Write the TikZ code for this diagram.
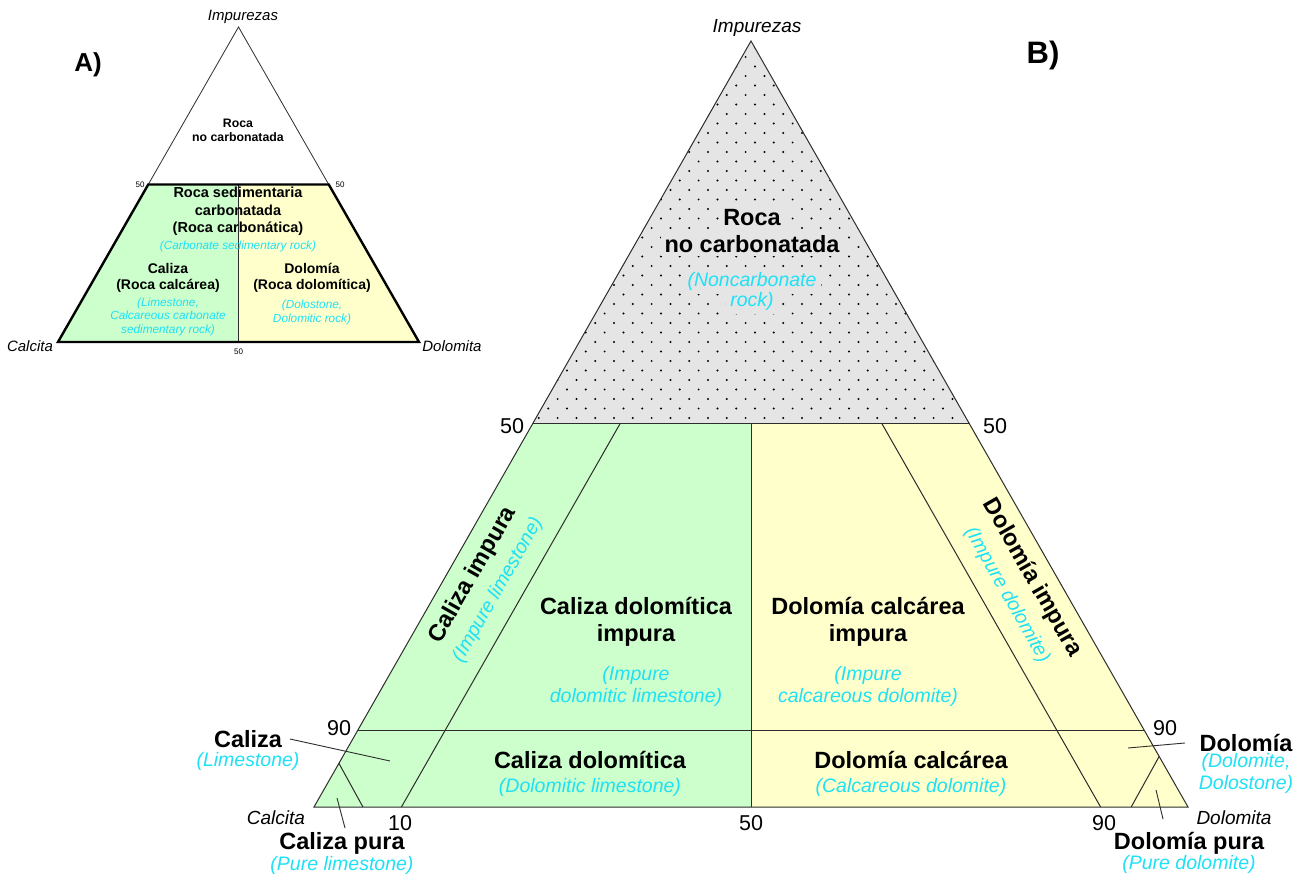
\documentclass[tikz,border=0pt]{standalone}
\usepackage{fontspec}
\setmainfont{Liberation Sans}
\usetikzlibrary{calc}
\definecolor{calgreen}{RGB}{204,255,204}
\definecolor{dolyellow}{RGB}{255,255,204}
\definecolor{impgray}{RGB}{229,229,229}
\definecolor{engcyan}{RGB}{30,225,245}
\definecolor{linegray}{RGB}{45,45,45}
\begin{document}
\begin{tikzpicture}[x=1pt,y=-1pt,
  edge/.style={draw=linegray,line width=1pt},
  leader/.style={draw=linegray,line width=0.9pt},
  esp/.style={font=\fontsize{23.5}{27}\selectfont\bfseries,align=center,inner sep=0pt},
  eng/.style={font=\fontsize{19.5}{22}\selectfont\itshape,text=engcyan,align=center,inner sep=0pt},
  num/.style={font=\fontsize{21.5}{24}\selectfont,inner sep=0pt},
  vertex/.style={font=\fontsize{19}{22}\selectfont\itshape,inner sep=0pt},
  espA/.style={font=\fontsize{14}{16.5}\selectfont\bfseries,align=center,inner sep=0pt},
  engA/.style={font=\fontsize{11.8}{13.5}\selectfont\itshape,text=engcyan,align=center,inner sep=0pt},
  numA/.style={font=\fontsize{8}{9}\selectfont,inner sep=0pt},
  vertexA/.style={font=\fontsize{15}{17}\selectfont\itshape,inner sep=0pt},
  panel/.style={font=\bfseries,inner sep=0pt},
  knockout/.style={fill=impgray,inner xsep=4pt,inner ysep=3pt,anchor=base}]

\fill[white] (0,0) rectangle (1307,874);
\useasboundingbox (0,0) rectangle (1307,874);

% ---------------- Diagram A ----------------
\coordinate (Ca) at (58,342);
\coordinate (Da) at (419,342);
\coordinate (Ia) at (238.5,27);
\coordinate (La) at ($(Ca)!0.5!(Ia)$);
\coordinate (Ra) at ($(Da)!0.5!(Ia)$);
\coordinate (Ma) at ($(La)!0.5!(Ra)$);
\coordinate (Ba) at ($(Ca)!0.5!(Da)$);

\fill[calgreen] (Ca) -- (La) -- (Ma) -- (Ba) -- cycle;
\fill[dolyellow] (Ba) -- (Ma) -- (Ra) -- (Da) -- cycle;
\draw[draw=linegray,line width=0.8pt] (La) -- (Ia) -- (Ra);
\draw[draw=linegray,line width=1pt] (Ma) -- (Ba);
\draw[line width=2.4pt,line join=miter] (Ca) -- (La) -- (Ra) -- (Da) -- cycle;

\node[vertexA] (impA) at (243,17) {Impurezas};
\node[panel,font=\fontsize{26}{28}\selectfont\bfseries] (labA) at (88,65) {A)};
\node[font=\fontsize{12.3}{14}\selectfont\bfseries,align=center,inner sep=0pt] (rocaA) at (238,130) {Roca\\no carbonatada};
\node[numA] (a50l) at (140,185) {50};
\node[numA] (a50r) at (340,185) {50};
\node[numA] (a50b) at (238.5,352) {50};
\node[espA,font=\fontsize{14.5}{17.5}\selectfont\bfseries] (rscA) at (238,211.5) {Roca sedimentaria\\carbonatada\\(Roca carbonática)};
\node[engA] (rscAe) at (238,246) {(Carbonate sedimentary rock)};
\node[espA] (calA) at (168,278) {Caliza\\(Roca calcárea)};
\node[engA] (calAe) at (168,316.5) {(Limestone,\\Calcareous carbonate\\sedimentary rock)};
\node[espA] (dolA) at (312,278) {Dolomía\\(Roca dolomítica)};
\node[engA] (dolAe) at (312,312.5) {(Dolostone,\\Dolomitic rock)};
\node[vertexA] (calcitaA) at (30,346) {Calcita};
\node[vertexA] (dolomitaA) at (452,346) {Dolomita};

% ---------------- Diagram B ----------------
\coordinate (C) at (314,807);
\coordinate (D) at (1188,807);
\coordinate (I) at (751,41);
\coordinate (L50) at ($(C)!0.5!(I)$);
\coordinate (R50) at ($(D)!0.5!(I)$);
\coordinate (M50) at ($(L50)!0.5!(R50)$);
\coordinate (B50) at ($(C)!0.5!(D)$);
\coordinate (L90) at ($(C)!0.1!(I)$);
\coordinate (R90) at ($(D)!0.1!(I)$);
\coordinate (B10) at ($(C)!0.1!(D)$);
\coordinate (B90) at ($(C)!0.9!(D)$);
\coordinate (T10) at ($(L50)!0.2!(R50)$);
\coordinate (T90) at ($(L50)!0.8!(R50)$);
\coordinate (CP1) at ($(C)!0.057!(I)$);
\coordinate (CP2) at ($(C)!0.056!(D)$);
\coordinate (DP1) at ($(D)!0.066!(I)$);
\coordinate (DP2) at ($(D)!0.065!(C)$);

\fill[impgray] (I) -- (L50) -- (R50) -- cycle;
\fill[calgreen] (C) -- (L50) -- (M50) -- (B50) -- cycle;
\fill[dolyellow] (B50) -- (M50) -- (R50) -- (D) -- cycle;

% stipple of the non-carbonate field
\begin{scope}
  \clip (I) -- (L50) -- (R50) -- cycle;
  \foreach \j in {0,...,39}{
    \pgfmathsetmacro\yy{418-9.5*\j}
    \pgfmathsetmacro\xo{755-9.4*(1-mod(\j,2))}
    \foreach \k in {-24,...,24}{
      \fill[black] (\xo+18.8*\k,\yy) circle[radius=1.1];
    }
  }
\end{scope}

\draw[edge,line join=miter] (I) -- (C) -- (D) -- cycle;
\draw[edge] (L50) -- (R50);
\draw[edge] (L90) -- (R90);
\draw[edge] (B10) -- (T10);
\draw[edge] (B90) -- (T90);
\draw[edge] (M50) -- (B50);
\draw[edge] (CP1) -- (CP2);
\draw[edge] (DP1) -- (DP2);

\node[vertex] (impB) at (757,28) {Impurezas};
\node[panel,font=\fontsize{31}{33}\selectfont\bfseries] (labB) at (1043,55) {B)};
% each line clears the stipple behind it
\node[esp,knockout] (rocaB1) at (752,226) {Roca};
\node[esp,knockout] (rocaB2) at (752,253) {no carbonatada};
\node[eng,knockout] (rocaBe1) at (752,287) {(Noncarbonate};
\node[eng,knockout] (rocaBe2) at (752,307) {rock)};
\node[num] (b50l) at (512,426) {50};
\node[num] (b50r) at (995,426) {50};

\node[esp,rotate=60.3] (calImp) at (473,575) {Caliza impura};
\node[eng,rotate=60.3] (calImpE) at (498,590) {(Impure limestone)};
\node[esp,rotate=-60.3] (dolImp) at (1032,578) {Dolomía impura};
\node[eng,rotate=-60.3] (dolImpE) at (1007,595) {(Impure dolomite)};

\node[esp] (cdi) at (636,621.5) {Caliza dolomítica\\impura};
\node[eng] (cdiE) at (636,686) {(Impure\\dolomitic limestone)};
\node[esp] (dci) at (868,621.5) {Dolomía calcárea\\impura};
\node[eng] (dciE) at (868,686) {(Impure\\calcareous dolomite)};

\node[esp] (cd) at (590,760) {Caliza dolomítica};
\node[eng] (cdE) at (590,787) {(Dolomitic limestone)};
\node[esp] (dc) at (911,760) {Dolomía calcárea};
\node[eng] (dcE) at (911,787) {(Calcareous dolomite)};

\node[num] (b90l) at (339,728) {90};
\node[num] (b90r) at (1165,728) {90};

\node[esp] (caliza) at (248,739) {Caliza};
\node[eng] (calizaE) at (248,761) {(Limestone)};
\node[vertex] (calcita) at (276,818) {Calcita};
\node[num] (b10) at (400,823) {10};
\node[num] (b50b) at (751,823) {50};
\node[num] (b90b) at (1104,823) {90};
\node[vertex] (dolomita) at (1234,818) {Dolomita};
\node[esp] (calizaPura) at (342,843) {Caliza pura};
\node[eng] (calizaPuraE) at (342,865) {(Pure limestone)};
\node[esp] (dolomia) at (1246,743) {Dolomía};
\node[eng] (dolomiaE) at (1246,773) {(Dolomite,\\Dolostone)};
\node[esp] (dolomiaPura) at (1189,843) {Dolomía pura};
\node[eng] (dolomiaPuraE) at (1189,864) {(Pure dolomite)};

% leader lines from the side labels into their fields
\coordinate (czA) at (290,739);
\coordinate (czB) at (390,761);
\coordinate (cpA) at (337,798);
\coordinate (cpB) at (345,828);
\coordinate (dmA) at (1128,748);
\coordinate (dmB) at (1185,743);
\coordinate (dpA) at (1156,790);
\coordinate (dpB) at (1163,819);
\draw[leader] (czA) -- (czB);
\draw[leader] (cpA) -- (cpB);
\draw[leader] (dmA) -- (dmB);
\draw[leader] (dpA) -- (dpB);
\end{tikzpicture}
\end{document}
